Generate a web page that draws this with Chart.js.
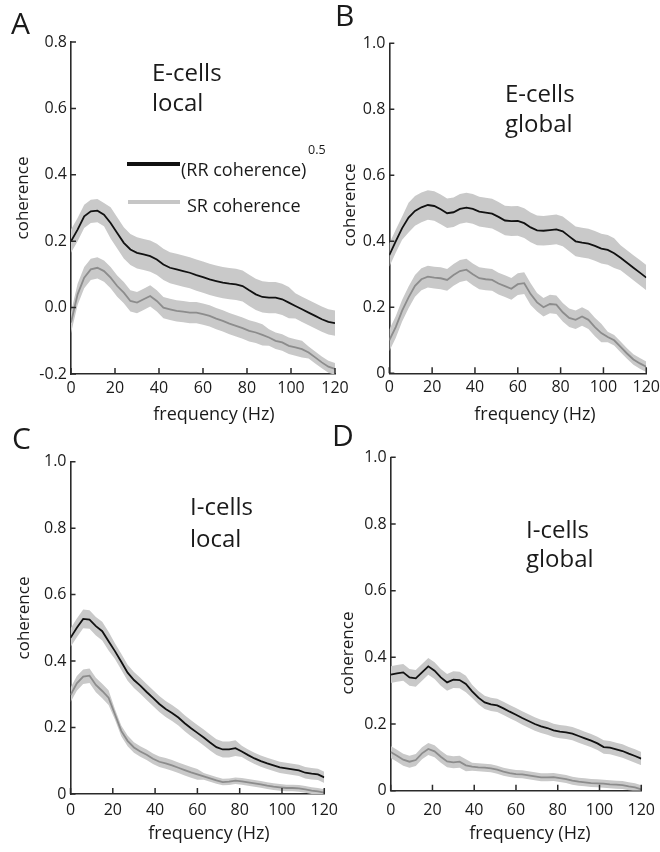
<!DOCTYPE html>
<html><head><meta charset="utf-8">
<script src="https://cdn.jsdelivr.net/npm/chart.js@4.4.1/dist/chart.umd.min.js"></script>
<style>
html,body{margin:0;padding:0;width:660px;height:852px;overflow:hidden;background:#fff;}
canvas{position:absolute;}
svg{position:absolute;left:0;top:0;}
</style></head><body>
<canvas id="cA" width="355" height="430" style="left:0px;top:0px"></canvas>
<canvas id="cB" width="345" height="430" style="left:320px;top:0px"></canvas>
<canvas id="cC" width="345" height="422" style="left:0px;top:430px"></canvas>
<canvas id="cD" width="345" height="422" style="left:320px;top:430px"></canvas>
<svg width="660" height="852" font-family="'Open Sans', sans-serif" fill="#1a1a1a">
  <text x="11" y="34" font-size="30">A</text>
  <text x="335" y="26" font-size="30">B</text>
  <text x="12" y="449" font-size="30">C</text>
  <text x="332" y="446" font-size="30">D</text>

  <text x="152" y="81" font-size="24">E-cells</text>
  <text x="152" y="111" font-size="24">local</text>
  <text x="505" y="102" font-size="24">E-cells</text>
  <text x="505" y="132" font-size="24">global</text>
  <text x="190" y="515" font-size="24">I-cells</text>
  <text x="190" y="547" font-size="24">local</text>
  <text x="526" y="538" font-size="24">I-cells</text>
  <text x="526" y="567" font-size="24">global</text>

  <rect x="127" y="162" width="53" height="4" fill="#111"/>
  <text x="181" y="176" font-size="18">(RR coherence)</text>
  <text x="308" y="154" font-size="12.5">0.5</text>
  <rect x="128" y="200" width="52" height="4" fill="#c6c6c6"/>
  <text x="187" y="212" font-size="18">SR coherence</text>

  <text transform="translate(28,198) rotate(-90)" text-anchor="middle" font-size="17">coherence</text>
  <text transform="translate(355,205) rotate(-90)" text-anchor="middle" font-size="17">coherence</text>
  <text transform="translate(29,618) rotate(-90)" text-anchor="middle" font-size="17">coherence</text>
  <text transform="translate(353,653) rotate(-90)" text-anchor="middle" font-size="17">coherence</text>

  <text x="214" y="420" text-anchor="middle" font-size="18">frequency (Hz)</text>
  <text x="535" y="420" text-anchor="middle" font-size="18">frequency (Hz)</text>
  <text x="209" y="839" text-anchor="middle" font-size="18">frequency (Hz)</text>
  <text x="530" y="839" text-anchor="middle" font-size="18">frequency (Hz)</text>
</svg>
<script>
// ---- data ----
const freq = [0,3,6,9,12,15,18,21,24,27,30,33,36,39,42,45,48,51,54,57,60,63,66,69,72,75,78,81,84,87,90,93,96,99,102,105,108,111,114,117,120];
const xTickValues = [0,20,40,60,80,100,120];
const yTickValuesA = [-0.2,0,0.2,0.4,0.6,0.8];
const yTickLabelsA = ['-0.2','0.0','0.2','0.4','0.6','0.8'];
const yTickValues = [0,0.2,0.4,0.6,0.8,1.0];
const yTickLabels = ['0','0.2','0.4','0.6','0.8','1.0'];

// Panel A: E-cells local
const rrA = [0.20,0.235,0.275,0.29,0.292,0.28,0.255,0.225,0.195,0.175,0.165,0.16,0.155,0.145,0.13,0.12,0.115,0.11,0.105,0.098,0.092,0.085,0.08,0.075,0.072,0.07,0.065,0.052,0.04,0.032,0.03,0.03,0.025,0.015,0.005,-0.005,-0.015,-0.025,-0.035,-0.043,-0.047];
const rrSemA = [0.035,0.035,0.035,0.035,0.035,0.035,0.047,0.047,0.047,0.047,0.047,0.047,0.047,0.047,0.047,0.047,0.047,0.047,0.047,0.047,0.047,0.047,0.047,0.047,0.047,0.047,0.047,0.047,0.047,0.047,0.047,0.047,0.047,0.047,0.038,0.038,0.038,0.038,0.038,0.038,0.038];
const srA = [-0.045,0.04,0.09,0.115,0.12,0.11,0.09,0.065,0.045,0.02,0.015,0.025,0.035,0.02,0.0,-0.005,-0.01,-0.012,-0.015,-0.015,-0.02,-0.025,-0.033,-0.04,-0.048,-0.055,-0.062,-0.07,-0.075,-0.082,-0.09,-0.1,-0.105,-0.115,-0.12,-0.125,-0.135,-0.15,-0.165,-0.178,-0.185];
const srSemA = [0.032,0.032,0.032,0.032,0.032,0.032,0.032,0.032,0.032,0.032,0.032,0.032,0.032,0.032,0.032,0.032,0.032,0.032,0.032,0.032,0.032,0.032,0.032,0.032,0.032,0.032,0.032,0.032,0.032,0.032,0.025,0.025,0.025,0.025,0.025,0.025,0.018,0.018,0.018,0.018,0.018];

// Panel B: E-cells global
const rrB = [0.358,0.40,0.44,0.472,0.492,0.503,0.51,0.507,0.497,0.485,0.488,0.498,0.502,0.498,0.49,0.487,0.484,0.474,0.463,0.461,0.462,0.455,0.442,0.433,0.432,0.434,0.436,0.43,0.415,0.40,0.396,0.393,0.386,0.378,0.374,0.364,0.35,0.335,0.32,0.305,0.29];
const rrSemB = [0.035,0.035,0.035,0.045,0.045,0.045,0.045,0.045,0.045,0.045,0.045,0.045,0.045,0.045,0.045,0.045,0.045,0.045,0.045,0.045,0.045,0.045,0.045,0.045,0.045,0.045,0.045,0.045,0.045,0.045,0.045,0.045,0.045,0.045,0.045,0.045,0.038,0.038,0.038,0.038,0.038];
const srB = [0.10,0.14,0.19,0.23,0.265,0.285,0.293,0.29,0.288,0.283,0.298,0.31,0.314,0.30,0.288,0.285,0.283,0.272,0.264,0.256,0.27,0.273,0.24,0.215,0.20,0.21,0.208,0.185,0.168,0.162,0.172,0.162,0.14,0.122,0.11,0.10,0.08,0.06,0.042,0.03,0.02];
const srSemB = [0.033,0.033,0.033,0.033,0.033,0.033,0.033,0.033,0.033,0.033,0.033,0.033,0.033,0.033,0.033,0.033,0.033,0.033,0.033,0.033,0.033,0.033,0.033,0.028,0.028,0.028,0.028,0.028,0.028,0.028,0.028,0.028,0.028,0.028,0.016,0.016,0.016,0.016,0.016,0.016,0.016];

// Panel C: I-cells local
const rrC = [0.47,0.50,0.527,0.525,0.505,0.49,0.46,0.43,0.398,0.365,0.343,0.326,0.307,0.289,0.271,0.256,0.244,0.23,0.213,0.198,0.184,0.17,0.155,0.141,0.134,0.134,0.138,0.128,0.117,0.107,0.099,0.092,0.086,0.08,0.077,0.074,0.071,0.064,0.061,0.059,0.05];
const rrSemC = [0.028,0.028,0.028,0.028,0.028,0.028,0.028,0.024,0.024,0.024,0.024,0.024,0.024,0.024,0.024,0.024,0.024,0.024,0.024,0.024,0.024,0.024,0.024,0.024,0.024,0.024,0.024,0.017,0.017,0.017,0.017,0.017,0.017,0.017,0.017,0.017,0.017,0.017,0.017,0.017,0.017];
const srC = [0.298,0.333,0.353,0.356,0.328,0.31,0.29,0.24,0.19,0.16,0.14,0.128,0.118,0.106,0.097,0.092,0.086,0.079,0.072,0.065,0.059,0.053,0.047,0.041,0.036,0.037,0.04,0.038,0.035,0.032,0.029,0.025,0.022,0.02,0.018,0.018,0.017,0.014,0.01,0.008,0.004];
const srSemC = [0.022,0.022,0.022,0.022,0.022,0.022,0.022,0.016,0.016,0.016,0.016,0.016,0.016,0.016,0.016,0.016,0.016,0.016,0.016,0.016,0.016,0.01,0.01,0.01,0.01,0.01,0.01,0.01,0.01,0.01,0.01,0.01,0.01,0.01,0.01,0.01,0.01,0.01,0.01,0.01,0.01];

// Panel D: I-cells global
const rrD = [0.348,0.352,0.355,0.34,0.337,0.355,0.373,0.36,0.34,0.325,0.333,0.332,0.32,0.298,0.279,0.265,0.259,0.256,0.247,0.237,0.228,0.218,0.209,0.20,0.193,0.188,0.181,0.177,0.175,0.171,0.164,0.157,0.15,0.142,0.131,0.129,0.124,0.119,0.111,0.104,0.096];
const rrSemD = [0.025,0.025,0.025,0.025,0.025,0.025,0.025,0.025,0.025,0.025,0.025,0.025,0.025,0.02,0.02,0.02,0.02,0.02,0.02,0.02,0.02,0.02,0.02,0.02,0.02,0.02,0.02,0.02,0.02,0.02,0.02,0.02,0.02,0.02,0.02,0.02,0.02,0.02,0.02,0.02,0.02];
const srD = [0.116,0.105,0.093,0.087,0.092,0.112,0.125,0.118,0.102,0.088,0.085,0.087,0.076,0.072,0.07,0.069,0.067,0.063,0.057,0.053,0.05,0.049,0.046,0.043,0.04,0.04,0.041,0.038,0.035,0.03,0.027,0.025,0.023,0.022,0.021,0.019,0.018,0.017,0.013,0.01,0.004];
const srSemD = [0.018,0.018,0.018,0.018,0.018,0.018,0.018,0.018,0.018,0.018,0.018,0.018,0.018,0.012,0.012,0.012,0.012,0.012,0.012,0.012,0.012,0.012,0.012,0.012,0.012,0.012,0.012,0.012,0.012,0.012,0.012,0.012,0.012,0.012,0.012,0.012,0.012,0.012,0.012,0.012,0.012];

// ---- drawing ----
Chart.defaults.font.family = "'Open Sans', sans-serif";
const AXIS = '#2a2a2a';
const BAND = '#c9c9c9';

const inwardTicks = {
  id: 'inwardTicks',
  afterDatasetsDraw(chart) {
    const ctx = chart.ctx, xs = chart.scales.x, ys = chart.scales.y;
    const a = chart.chartArea;
    ctx.save();
    ctx.strokeStyle = AXIS; ctx.lineWidth = 1.5;
    ctx.beginPath();
    xs.ticks.forEach(t => { const p = xs.getPixelForValue(t.value); ctx.moveTo(p, a.bottom); ctx.lineTo(p, a.bottom - 6); });
    ys.ticks.forEach(t => { const p = ys.getPixelForValue(t.value); ctx.moveTo(a.left, p); ctx.lineTo(a.left + 5, p); });
    ctx.stroke();
    ctx.restore();
  }
};

function pts(ys) { return freq.map((f, i) => ({x: f, y: ys[i]})); }
function band(ys, sem, sign) { return freq.map((f, i) => ({x: f, y: ys[i] + sign * sem[i]})); }

function makePanel(id, rr, rrSem, sr, srSem, yVals, yLabels, g) {
  new Chart(document.getElementById(id), {
    type: 'line',
    data: {
      datasets: [
        {data: pts(rr), borderColor: '#111', borderWidth: 1.8, pointRadius: 0, fill: false, tension: 0},
        {data: pts(sr), borderColor: '#8c8c8c', borderWidth: 1.8, pointRadius: 0, fill: false, tension: 0},
        {data: band(rr, rrSem, 1), borderWidth: 0, borderColor: 'rgba(0,0,0,0)', pointRadius: 0, fill: '+1', backgroundColor: BAND, tension: 0},
        {data: band(rr, rrSem, -1), borderWidth: 0, borderColor: 'rgba(0,0,0,0)', pointRadius: 0, fill: false, tension: 0},
        {data: band(sr, srSem, 1), borderWidth: 0, borderColor: 'rgba(0,0,0,0)', pointRadius: 0, fill: '+1', backgroundColor: BAND, tension: 0},
        {data: band(sr, srSem, -1), borderWidth: 0, borderColor: 'rgba(0,0,0,0)', pointRadius: 0, fill: false, tension: 0}
      ]
    },
    options: {
      responsive: false, animation: false, events: [],
      layout: {padding: {left: 0, top: g.top, right: g.right, bottom: 0}},
      plugins: {legend: {display: false}, tooltip: {enabled: false}, filler: {drawTime: 'beforeDatasetsDraw'}},
      scales: {
        x: {
          type: 'linear', min: 0, max: 120,
          afterBuildTicks: s => { s.ticks = xTickValues.map(v => ({value: v})); },
          afterFit: s => { s.height = g.xh; },
          grid: {display: false, drawTicks: false},
          border: {display: true, color: AXIS, width: 1.6},
          ticks: {color: '#1a1a1a', font: {size: 16}, padding: g.xpad, maxRotation: 0, autoSkip: false, callback: v => String(v)}
        },
        y: {
          type: 'linear', min: yVals[0], max: yVals[yVals.length - 1],
          afterBuildTicks: s => { s.ticks = yVals.map(v => ({value: v})); },
          afterFit: s => { s.width = g.yw; },
          grid: {display: false, drawTicks: false},
          border: {display: true, color: AXIS, width: 1.6},
          ticks: {color: '#1a1a1a', font: {size: 16}, padding: 4, autoSkip: false,
            callback: v => { const i = yVals.findIndex(t => Math.abs(t - v) < 1e-9); return i >= 0 ? yLabels[i] : ''; }}
        }
      }
    },
    plugins: [inwardTicks]
  });
}

makePanel('cA', rrA, rrSemA, srA, srSemA, yTickValuesA, yTickLabelsA, {top: 42, right: 20, yw: 71, xh: 56, xpad: 5});
makePanel('cB', rrB, rrSemB, srB, srSemB, yTickValues, yTickLabels, {top: 43.3, right: 17, yw: 69.3, xh: 56.7, xpad: 5});
makePanel('cC', rrC, rrSemC, srC, srSemC, yTickValues, yTickLabels, {top: 31.7, right: 20, yw: 70.5, xh: 58, xpad: 7});
makePanel('cD', rrD, rrSemD, srD, srSemD, yTickValues, yTickLabels, {top: 27.3, right: 22, yw: 70.7, xh: 61.3, xpad: 10});
</script>
</body></html>
